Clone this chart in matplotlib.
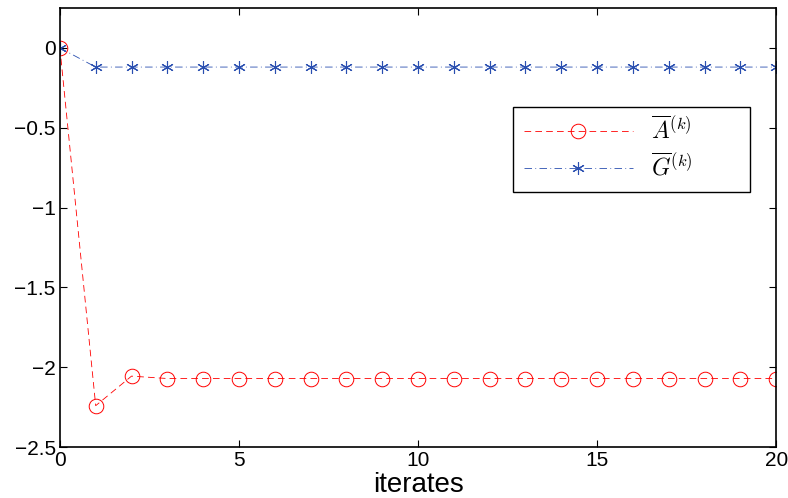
import numpy as np
import matplotlib
matplotlib.use('Agg')
import matplotlib.pyplot as plt

# Values
iterates = list(range(21))
a_bar = [0.0, -2.24, -2.055] + [-2.07] * 18
g_bar = [0.0] + [-0.12] * 20

plt.rcParams['font.family'] = ['Liberation Sans', 'DejaVu Sans']
plt.rcParams['mathtext.fontset'] = 'cm'

fig = plt.figure(figsize=(7.88, 4.98), dpi=100)
ax = fig.add_axes([0.076, 0.102, 0.909, 0.882])

ax.plot(iterates, a_bar, color='red', linestyle=(0, (8, 5)), linewidth=0.6,
        marker='o', markersize=10.5, markerfacecolor='none', markeredgewidth=0.7,
        label=r'$\overline{A}^{(k)}$')
ax.plot(iterates, g_bar, color='#2a4fb0', linestyle=(0, (9, 4, 1, 4)), linewidth=0.6,
        marker=(6, 2, 0), markersize=9, markeredgewidth=0.8,
        label=r'$\overline{G}^{(k)}$')

ax.set_xlim(0, 20)
ax.set_ylim(-2.5, 0.25)
ax.set_xticks([0, 5, 10, 15, 20])
ax.set_yticks([-2.5, -2, -1.5, -1, -0.5, 0])
ax.set_yticklabels(['\u22122.5', '\u22122', '\u22121.5', '\u22121', '\u22120.5', '0'])
ax.tick_params(direction='in', top=True, right=True, labelsize=15, length=5, width=0.8, pad=3)
for s in ax.spines.values():
    s.set_linewidth(1.2)

ax.set_xlabel('iterates', fontsize=20, labelpad=1)

leg = ax.legend(loc='upper left', bbox_to_anchor=(0.633, 0.595, 0.331, 0.18),
                mode='expand', fontsize=17, fancybox=False, framealpha=1,
                edgecolor='black', handlelength=4.6, handletextpad=0.8,
                borderpad=0.45, labelspacing=0.4, borderaxespad=0)
leg.get_frame().set_linewidth(1.0)

fig.savefig('out.png', dpi=100)
